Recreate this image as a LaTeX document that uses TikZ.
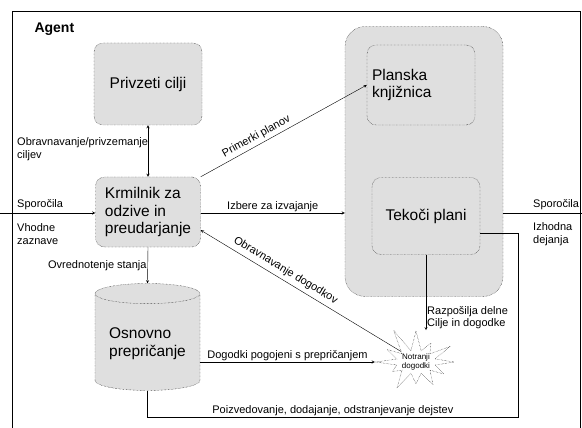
\documentclass[tikz,border=0pt]{standalone}
\usepackage{fontspec}
\setmainfont{Liberation Sans}
\usetikzlibrary{shapes.geometric,shapes.symbols}

\begin{document}
\begin{tikzpicture}[x=1pt,y=-1pt,>=stealth,
  polje/.style={draw,densely dotted,fill=gray!25,font=\fontsize{15.5}{17.5}\selectfont,align=left,inner sep=2pt},
  blok/.style={polje,rounded corners=9pt},
  oznaka/.style={font=\fontsize{11}{12.5}\selectfont,align=left,inner sep=1pt}]
\useasboundingbox (0,0) rectangle (582,428);
\draw (12,428) -- (12,11) -- (580,11) -- (580,428);
\node[anchor=west,font=\fontsize{14}{16}\selectfont\bfseries] (agent) at (31,29) {Agent};
\node[blok,minimum width=108pt,minimum height=82pt] (privzeti) at (148,84) {Privzeti cilji};
\node[blok,minimum width=105pt,minimum height=70pt] (krmilnik) at (148,212) {Krmilnik za\\odzive in\\preudarjanje};
\node[blok,rounded corners=20pt,minimum width=158pt,minimum height=270pt] (plani) at (424,161.5) {};
\node[blok,minimum width=108pt,minimum height=80pt,text width=98pt] (knjiznica) at (421,85) {Planska\\knjižnica};
\node[blok,minimum width=108pt,minimum height=77pt] (tekoci) at (426,216) {Tekoči plani};
\node[polje,shape=cylinder,shape border rotate=90,aspect=0.25,minimum width=105pt,minimum height=107pt] (osnovno) at (147.5,343.5) {Osnovno\\prepričanje};
\node[draw,densely dotted,fill=white,shape=starburst,starburst points=12,starburst point height=26pt,random starburst=11,minimum width=66pt,minimum height=64pt,font=\fontsize{8}{9}\selectfont,align=center,inner sep=0pt] (notranji) at (416,362) {Notranji\\dogodki};
\coordinate (vhod) at (0,213);
\coordinate (izhod) at (582,213);

\draw[<->] (privzeti) -- (krmilnik);
\node[oznaka,anchor=west] (l1) at (16,149) {Obravnavanje/privzemanje\\ciljev};
\draw[->] (vhod) -- (krmilnik.west |- vhod);
\node[oznaka,anchor=west] (l2) at (16,205) {Sporočila};
\node[oznaka,anchor=west] (l3) at (16,234) {Vhodne\\zaznave};
\draw[->] (krmilnik.east |- vhod) -- node[oznaka,above]{Izbere za izvajanje} (plani.west |- vhod);
\draw (plani.east |- izhod) -- (izhod);
\node[oznaka,anchor=west] (l4) at (532,205) {Sporočila};
\node[oznaka,anchor=west] (l5) at (532,234) {Izhodna\\dejanja};
\draw[->] (krmilnik.north east) -- node[oznaka,above,sloped,pos=0.36,inner sep=3pt]{Primerki planov} (knjiznica.west);
\draw[->] (krmilnik.south) -- node[oznaka,left]{Ovrednotenje stanja} (osnovno.top);
\draw[->] (osnovno.0 |- notranji.west) -- node[oznaka,above]{Dogodki pogojeni s prepričanjem} (notranji.west);
\draw[->] (tekoci.south) -- node[oznaka,right,pos=0.83]{Razpošilja delne\\Cilje in dogodke} (tekoci.south |- notranji.north);
\draw[<-] (krmilnik.-19) -- node[oznaka,above,sloped,pos=0.4,inner sep=4pt]{Obravnavanje dogodkov} (notranji.145);
\draw ([yshift=-17pt]tekoci.east) -- ++(38,0) |- (osnovno.bottom |- 0,417) node[oznaka,above,pos=0.75]{Poizvedovanje, dodajanje, odstranjevanje dejstev} -- (osnovno.bottom);
\end{tikzpicture}
\end{document}
